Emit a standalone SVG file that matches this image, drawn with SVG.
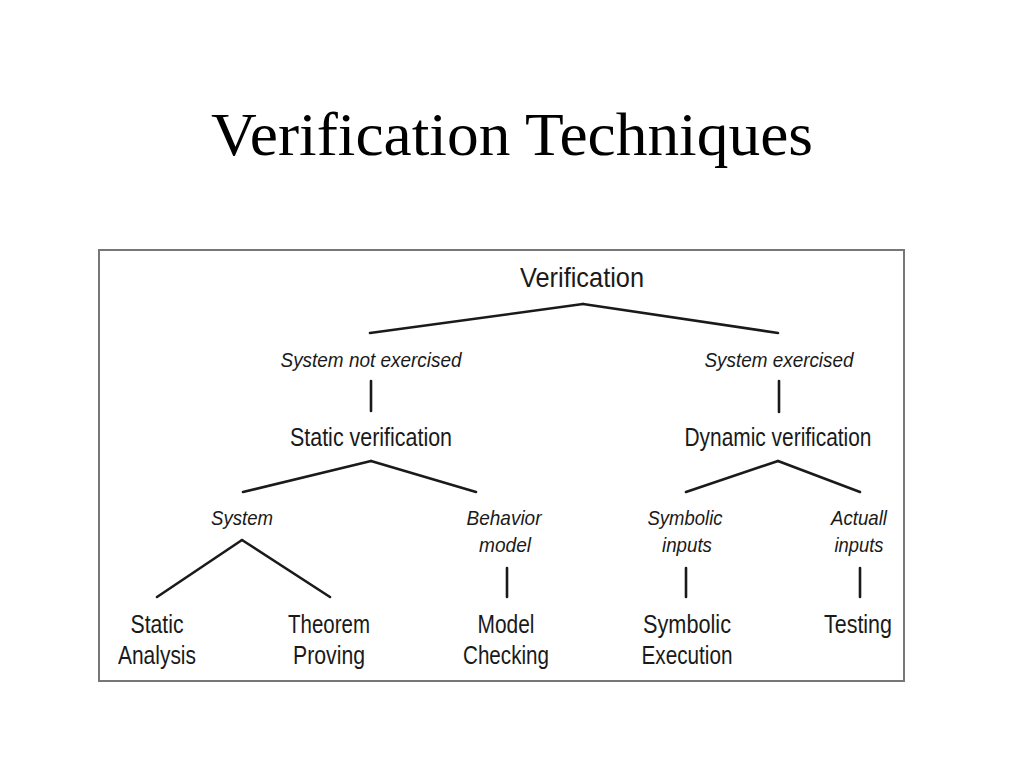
<svg xmlns="http://www.w3.org/2000/svg" width="1024" height="768" viewBox="0 0 1024 768">
<style>
.title{font-family:"Liberation Serif","Times New Roman",serif;font-size:62px;fill:#000}
.n{font-family:"Liberation Sans",Arial,sans-serif;font-size:25px;fill:#1a1a1a;text-anchor:middle}
.i{font-family:"Liberation Sans",Arial,sans-serif;font-size:21px;font-style:italic;fill:#1a1a1a;text-anchor:middle}
.root{font-family:"Liberation Sans",Arial,sans-serif;font-size:28px;fill:#1a1a1a;text-anchor:middle}
.c line{stroke:#1a1a1a;stroke-width:2.6;stroke-linecap:round}
</style>
<rect width="1024" height="768" fill="#fff"/>
<text class="title" x="512" y="155" text-anchor="middle" textLength="602" lengthAdjust="spacingAndGlyphs">Verification Techniques</text>
<rect x="99" y="250" width="805" height="431" fill="none" stroke="#777" stroke-width="2"/>
<g class="c" id="connectors">
<line x1="583" y1="304" x2="370" y2="333"/>
<line x1="583" y1="304" x2="778" y2="333"/>
<line x1="371" y1="381" x2="371" y2="411"/>
<line x1="779" y1="381" x2="779" y2="412"/>
<line x1="371" y1="461" x2="243" y2="492"/>
<line x1="371" y1="461" x2="476" y2="492"/>
<line x1="778" y1="461" x2="686" y2="492"/>
<line x1="778" y1="461" x2="860" y2="492"/>
<line x1="242" y1="540" x2="157" y2="597"/>
<line x1="242" y1="540" x2="330" y2="597"/>
<line x1="507" y1="568" x2="507" y2="597"/>
<line x1="686" y1="568" x2="686" y2="597"/>
<line x1="860" y1="568" x2="860" y2="597"/>
</g>
<g id="verification"><text class="root" x="582" y="287" textLength="124" lengthAdjust="spacingAndGlyphs">Verification</text></g>
<g id="not-exercised"><text class="i" x="371" y="367" textLength="181" lengthAdjust="spacingAndGlyphs">System not exercised</text></g>
<g id="exercised"><text class="i" x="779" y="367" textLength="149" lengthAdjust="spacingAndGlyphs">System exercised</text></g>
<g id="static-verification"><text class="n" x="371" y="446" textLength="162" lengthAdjust="spacingAndGlyphs">Static verification</text></g>
<g id="dynamic-verification"><text class="n" x="778" y="446" textLength="187" lengthAdjust="spacingAndGlyphs">Dynamic verification</text></g>
<g id="system"><text class="i" x="242" y="525" textLength="62" lengthAdjust="spacingAndGlyphs">System</text></g>
<g id="behavior-model"><text class="i" x="504" y="525" textLength="75" lengthAdjust="spacingAndGlyphs">Behavior</text><text class="i" x="505" y="552" textLength="52" lengthAdjust="spacingAndGlyphs">model</text></g>
<g id="symbolic-inputs"><text class="i" x="685" y="525" textLength="75" lengthAdjust="spacingAndGlyphs">Symbolic</text><text class="i" x="687" y="552" textLength="50" lengthAdjust="spacingAndGlyphs">inputs</text></g>
<g id="actual-inputs"><text class="i" x="859" y="525" textLength="56" lengthAdjust="spacingAndGlyphs">Actuall</text><text class="i" x="859" y="552" textLength="49" lengthAdjust="spacingAndGlyphs">inputs</text></g>
<g id="static-analysis"><text class="n" x="157" y="633" textLength="53" lengthAdjust="spacingAndGlyphs">Static</text><text class="n" x="157" y="664" textLength="78" lengthAdjust="spacingAndGlyphs">Analysis</text></g>
<g id="theorem-proving"><text class="n" x="329" y="633" textLength="82" lengthAdjust="spacingAndGlyphs">Theorem</text><text class="n" x="329" y="664" textLength="72" lengthAdjust="spacingAndGlyphs">Proving</text></g>
<g id="model-checking"><text class="n" x="506" y="633" textLength="57" lengthAdjust="spacingAndGlyphs">Model</text><text class="n" x="506" y="664" textLength="86" lengthAdjust="spacingAndGlyphs">Checking</text></g>
<g id="symbolic-execution"><text class="n" x="687" y="633" textLength="88" lengthAdjust="spacingAndGlyphs">Symbolic</text><text class="n" x="687" y="664" textLength="91" lengthAdjust="spacingAndGlyphs">Execution</text></g>
<g id="testing"><text class="n" x="858" y="633" textLength="68" lengthAdjust="spacingAndGlyphs">Testing</text></g>
</svg>
